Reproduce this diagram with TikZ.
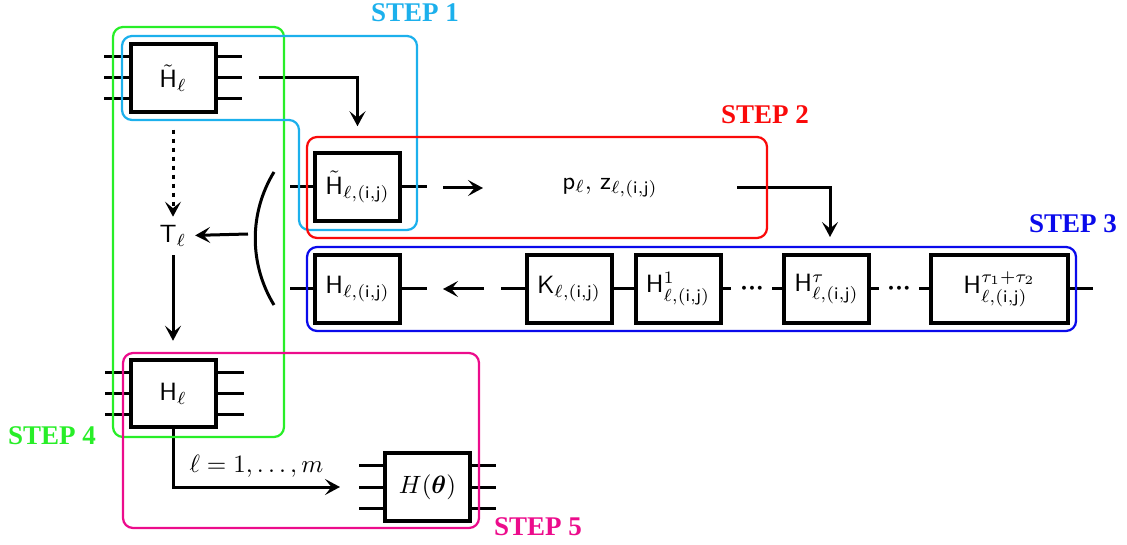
\documentclass[tikz,border=0pt]{standalone}
\usepackage{amsmath}
\usepackage{fontspec}
\newfontfamily\stepfont{Liberation Serif}
\usetikzlibrary{arrows.meta,positioning}
\definecolor{stepone}{RGB}{28,176,236}
\definecolor{steptwo}{RGB}{250,10,10}
\definecolor{stepthree}{RGB}{10,10,235}
\definecolor{stepfour}{RGB}{40,238,40}
\definecolor{stepfive}{RGB}{236,12,140}

\begin{document}
\begin{tikzpicture}[x=0.4pt, y=-0.4pt,
  gate/.style={draw, line width=1.6pt, minimum width=34pt, minimum height=27pt, inner sep=1pt, font=\sffamily},
  wire/.style={line width=1.2pt},
  conn/.style={line width=1.2pt, -{Stealth[length=6pt, width=6.4pt, inset=2.6pt]}},
  zone/.style={line width=0.9pt, rounded corners=4pt},
  dotsl/.style={inner sep=0pt},
  steplbl/.style={font=\stepfont\bfseries\fontsize{10.8}{12}\selectfont}]
\useasboundingbox (0,0) rectangle (1127,545);
%input Hamiltonian and its terms
\node[gate] (Htl) at (173,78) {$\tilde{\mathsf{H}}_{\ell}$};
\node (Tl) at (173,236) {$\mathsf{T}_{\ell}$};
\node[gate] (Hl) at (173,393.5) {$\mathsf{H}_{\ell}$};
\node[gate] (Hth) at (427.5,487) {$H(\boldsymbol{\theta})$};
\foreach \dy in {-21, 0, 21}{
  \draw[wire] (Htl.west) ++(0,\dy) -- ++(-25,0);
  \draw[wire] (Htl.east) ++(0,\dy) -- ++(24,0);
  \draw[wire] (Hl.west) ++(0,\dy) -- ++(-24,0);
  \draw[wire] (Hl.east) ++(0,\dy) -- ++(26,0);
  \draw[wire] (Hth.west) ++(0,\dy) -- ++(-24,0);
  \draw[wire] (Hth.east) ++(0,\dy) -- ++(24,0);
}
%local terms
\node[gate] (Hijt) at (357.5,187) {$\tilde{\mathsf{H}}_{\ell,(\mathsf{i},\mathsf{j})}$};
\node (pz) at (610,188) {$\mathsf{p}_{\ell}$, $\mathsf{z}_{\ell,(\mathsf{i},\mathsf{j})}$};
\node[gate] (Hij) at (357.5,289) {$\mathsf{H}_{\ell,(\mathsf{i},\mathsf{j})}$};
\node[gate] (K) at (569,289) {$\mathsf{K}_{\ell,(\mathsf{i},\mathsf{j})}$};
\node[gate] (H1) at (678,289) {$\mathsf{H}^{1}_{\ell,(\mathsf{i},\mathsf{j})}$};
\node[dotsl] (d1) at (752,289) {$\boldsymbol{{\cdot}{\cdot}{\cdot}}$};
\node[gate] (Htau) at (826.5,289) {$\mathsf{H}^{\tau}_{\ell,(\mathsf{i},\mathsf{j})}$};
\node[dotsl] (d2) at (899,289) {$\boldsymbol{{\cdot}{\cdot}{\cdot}}$};
\node[gate, minimum width=54.8pt] (Hsum) at (999.5,289) {$\mathsf{H}^{\tau_1+\tau_2}_{\ell,(\mathsf{i},\mathsf{j})}$};
\foreach \g in {Hijt, Hij}{
  \draw[wire] (\g.west) -- ++(-23,0);
  \draw[wire] (\g.east) -- ++(25,0);
}
\draw[wire] (K.west) -- ++(-24,0);
\draw[wire] (K) -- (H1);
\draw[wire] (H1.east) -- ++(8,0);
\draw[wire] (Htau.west) -- ++(-10,0);
\draw[wire] (Htau.east) -- ++(8,0);
\draw[wire] (Hsum.west) -- ++(-10,0);
\draw[wire] (Hsum.east) -- ++(23,0);
%connectors
\coordinate (a2s) at (443,188);
\coordinate (a2e) at (483,188);
\coordinate (p2s) at (737,188);
\coordinate (p2e) at (830,237);
\coordinate (a3s) at (484,289);
\coordinate (a3e) at (443,289);
\coordinate (arcm) at (248,234);
\draw[conn] ([xshift=16.4pt]Htl.east) -| ([yshift=10pt]Hijt.north);
\draw[conn] (a2s) -- (a2e);
\draw[conn] (p2s) -| (p2e);
\draw[conn] (a3s) -- (a3e);
\draw[line width=1.2pt] (274,172) .. controls (249,213) and (249,264) .. (274,305);
\draw[conn] (arcm) -- (Tl);
\draw[conn, dash pattern=on 1.6pt off 2pt, shorten <=6.4pt] (Htl) -- (Tl);
\draw[conn, shorten >=6.8pt] (Tl) -- (Hl);
\draw[conn] (Hl.south) |- ([xshift=-17.2pt]Hth.west) node[pos=0.75, above] {$\ell=1,\ldots,m$};
%steps
\draw[zone, stepfour] (113,27) rectangle (284,437);
\draw[zone, stepone] (122,36) -- (417,36) -- (417,230) -- (299,230) -- (299,120) -- (122,120) -- cycle;
\draw[zone, steptwo] (307,137) rectangle (767,238);
\draw[zone, stepthree] (307,247) rectangle (1076,331);
\draw[zone, stepfive] (123,353) rectangle (479,528);
\node[steplbl, text=stepone] (s1) at (415,13) {STEP 1};
\node[steplbl, text=steptwo] (s2) at (765,115) {STEP 2};
\node[steplbl, text=stepthree] (s3) at (1073,224) {STEP 3};
\node[steplbl, text=stepfour] (s4) at (52,436) {STEP 4};
\node[steplbl, text=stepfive] (s5) at (538,527) {STEP 5};
\end{tikzpicture}
\end{document}
